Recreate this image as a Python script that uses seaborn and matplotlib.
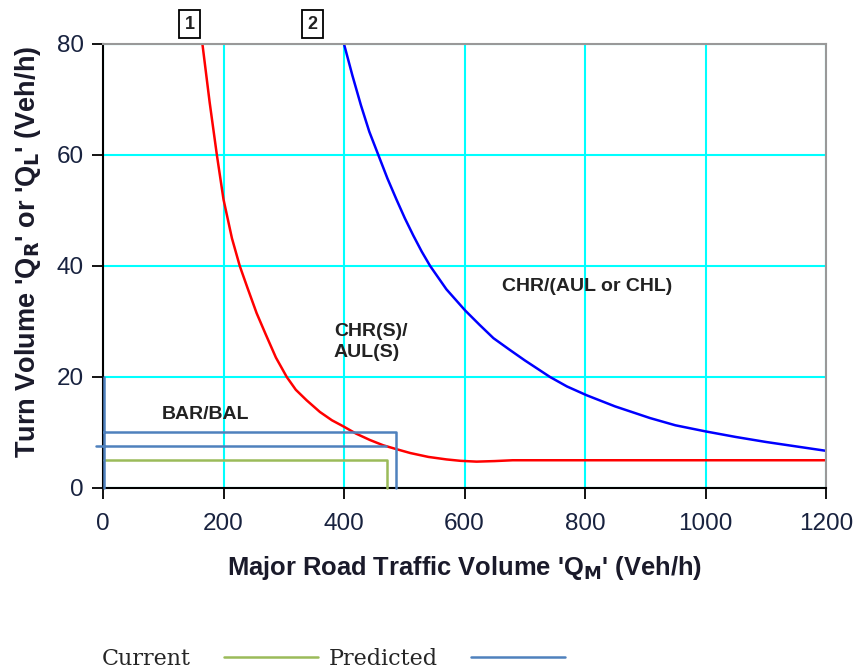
import matplotlib
matplotlib.use("Agg")
import matplotlib.pyplot as plt
import seaborn as sns
import numpy as np
import pandas as pd

# ---- data ----
warrant1_x = [165, 177, 189, 200, 214, 227, 240, 255, 270, 287, 305, 320, 338, 360, 380,
              399, 420, 443, 465, 487, 510, 540, 570, 593, 620, 650, 680, 720, 800, 900,
              1000, 1100, 1200]
warrant1_y = [80, 69.5, 60, 52, 45, 40, 36, 31.5, 27.7, 23.5, 20, 17.7, 15.8, 13.7, 12.2,
              11.1, 9.8, 8.65, 7.7, 7.0, 6.3, 5.6, 5.15, 4.9, 4.75, 4.85, 5.0, 5.0, 5.0, 5.0,
              5.0, 5.0, 5.0]

warrant2_x = [400, 414, 428, 442, 457, 472, 487, 501, 515, 529, 543, 570, 601, 625, 648, 675,
              700, 742, 770, 803, 850, 908, 950, 1000, 1050, 1100, 1150, 1200]
warrant2_y = [80, 74.3, 69, 64.2, 60, 55.8, 52, 48.6, 45.5, 42.6, 40, 35.8, 32, 29.4, 27, 24.9,
              23, 20, 18.3, 16.7, 14.7, 12.6, 11.3, 10.2, 9.2, 8.3, 7.5, 6.7]

current_x = [2, 471, 471]
current_y = [5, 5, 0]

predicted_x = [2, 2, np.nan, 2, 487, 487, np.nan, -11, 469]
predicted_y = [0, 20, np.nan, 10.1, 10.1, 0, np.nan, 7.6, 7.6]

x_ticks = [0, 200, 400, 600, 800, 1000, 1200]
y_ticks = [0, 20, 40, 60, 80]

region_labels = ["BAR/BAL", "CHR(S)/\nAUL(S)", "CHR/(AUL or CHL)"]
region_x = [98, 383, 662]
region_y = [13.3, 26.3, 36.3]

curve_tags = ["1", "2"]
curve_tag_x = [143.6, 347.7]

sns.set_style("white")
plt.rcParams['font.family'] = ['Liberation Sans', 'DejaVu Sans']

fig = plt.figure(figsize=(8.58, 6.72), dpi=100)
ax = fig.add_axes([103/858, 1-488/672, (826-103)/858, (488-44)/672])

ax.set_xlim(0, 1200)
ax.set_ylim(0, 80)
ax.set_xticks(x_ticks)
ax.set_yticks(y_ticks)
ax.grid(True, color="#00FFFF", linewidth=1.5)
ax.set_axisbelow(True)

df1 = pd.DataFrame({"x": warrant1_x, "y": warrant1_y})
df2 = pd.DataFrame({"x": warrant2_x, "y": warrant2_y})
sns.lineplot(data=df1, x="x", y="y", ax=ax, color="#FF0000", linewidth=1.8, sort=False, estimator=None)
sns.lineplot(data=df2, x="x", y="y", ax=ax, color="#0000FF", linewidth=1.8, sort=False, estimator=None)

lc, = ax.plot(current_x, current_y, color="#9BBB59", linewidth=1.8, clip_on=False, label="Current", zorder=5)
lp, = ax.plot(predicted_x, predicted_y, color="#4F81BD", linewidth=1.8, clip_on=False, label="Predicted", zorder=5)

for s in ["left", "bottom"]:
    ax.spines[s].set_color("black")
    ax.spines[s].set_linewidth(1.5)
for s in ["top", "right"]:
    ax.spines[s].set_color("#999999")
    ax.spines[s].set_linewidth(1.5)

ax.tick_params(axis="both", direction="out", length=8, width=1.3, color="black",
               labelsize=17.5, labelcolor="#18223f", left=True, bottom=True)
ax.tick_params(axis="x", pad=10)
ax.tick_params(axis="y", pad=6)

ax.set_xlabel("Major Road Traffic Volume 'Q$_\\mathbf{M}$' (Veh/h)", fontsize=18.4, fontweight="bold",
              color="#1a1a2a")
ax.set_ylabel("Turn Volume 'Q$_\\mathbf{R}$' or 'Q$_\\mathbf{L}$' (Veh/h)", fontsize=19.5, fontweight="bold",
              color="#1a1a2a")
ax.xaxis.set_label_coords(0.5007, -0.18)
ax.xaxis.label.set_va("center")
ax.yaxis.set_label_coords(-0.1037, 0.5315)
ax.yaxis.label.set_va("center")

for lab, lx, ly in zip(region_labels, region_x, region_y):
    ax.text(lx, ly, lab, fontsize=14, fontweight="bold", color="#222222",
            ha="left", va="center", linespacing=1.3)

for tag, tx in zip(curve_tags, curve_tag_x):
    ax.text(tx, 83.6, tag, fontsize=13, fontweight="bold", ha="center", va="center",
            clip_on=False, color="#222222",
            bbox=dict(boxstyle="square,pad=0.28", facecolor="white", edgecolor="black", linewidth=1.3))

fig.legend(handles=[lc, lp], loc="center left", bbox_to_anchor=(82/858, 1-659/672),
           ncol=2, frameon=False, markerfirst=False,
           prop={"family": "DejaVu Serif", "size": 16}, handlelength=4.2,
           columnspacing=0.5, handletextpad=1.5)

fig.savefig("out.png", dpi=100)
